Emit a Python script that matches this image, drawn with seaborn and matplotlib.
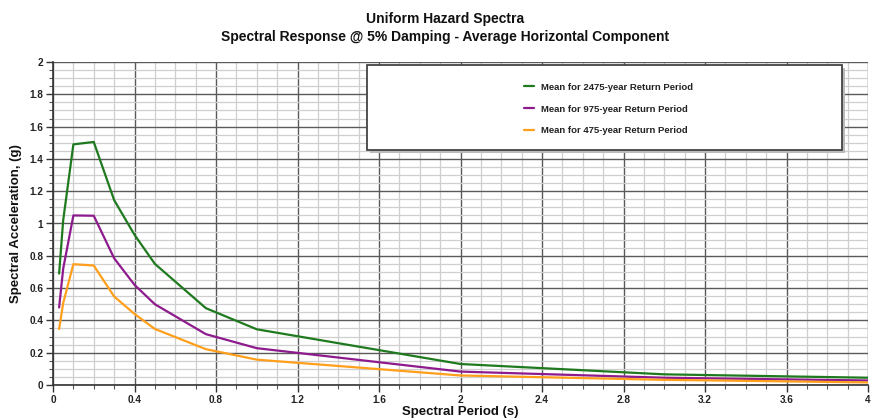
import numpy as np
import pandas as pd
import matplotlib
matplotlib.use("Agg")
import matplotlib.pyplot as plt
from matplotlib.patches import Rectangle
from matplotlib.ticker import MultipleLocator
import seaborn as sns

periods = [0.03, 0.05, 0.1, 0.2, 0.3, 0.4, 0.5, 0.75, 1.0, 2.0, 3.0, 4.0]
sa_2475 = [0.69, 1.02, 1.49, 1.505, 1.145, 0.93, 0.75, 0.476, 0.345, 0.13, 0.066, 0.045]
sa_975 = [0.48, 0.72, 1.05, 1.048, 0.785, 0.62, 0.50, 0.315, 0.228, 0.083, 0.045, 0.028]
sa_475 = [0.347, 0.507, 0.748, 0.74, 0.548, 0.44, 0.347, 0.222, 0.157, 0.059, 0.032, 0.016]
series_names = ["Mean for 2475-year Return Period",
                "Mean for 975-year Return Period",
                "Mean for 475-year Return Period"]
colors = ["#1f7a1f", "#8e1b8e", "#ff9f1c"]

rows = []
for name, vals in zip(series_names, [sa_2475, sa_975, sa_475]):
    for p, v in zip(periods, vals):
        rows.append({"Period": p, "SA": v, "Series": name})
df = pd.DataFrame(rows)

sns.set_theme(style="white")
plt.rcParams["font.family"] = ["Liberation Sans", "DejaVu Sans"]

fig = plt.figure(figsize=(8.9, 4.19), dpi=100)
ax = fig.add_axes([53 / 890, 1 - 385 / 419, 815 / 890, 323 / 419])

sns.lineplot(data=df, x="Period", y="SA", hue="Series", palette=colors,
             hue_order=series_names, linewidth=1.6, ax=ax, legend=True, zorder=3)

ax.set_xlim(0, 4)
ax.set_ylim(0, 2)
ax.xaxis.set_major_locator(MultipleLocator(0.4))
ax.xaxis.set_minor_locator(MultipleLocator(0.1))
ax.yaxis.set_major_locator(MultipleLocator(0.2))
ax.yaxis.set_minor_locator(MultipleLocator(0.05))
ax.grid(which="major", color="#5a5a5a", linewidth=1.0, zorder=1)
ax.grid(which="minor", color="#cfcfcf", linewidth=0.9, zorder=0)
ax.set_axisbelow(True)

xt = np.arange(0, 4.01, 0.4)
ax.set_xticks(xt)
ax.set_xticklabels([("%g" % round(v, 1)) for v in xt])
yt = np.arange(0, 2.01, 0.2)
ax.set_yticks(yt)
ax.set_yticklabels([("%g" % round(v, 1)) for v in yt])

ax.tick_params(axis="both", which="major", labelsize=7.2, length=5, width=1,
               color="#333333", direction="out", bottom=True, left=True, pad=2)
ax.tick_params(axis="both", which="minor", length=3, width=0.8, color="#555555",
               direction="out", bottom=True, left=True)
for lab in ax.get_xticklabels() + ax.get_yticklabels():
    lab.set_fontweight("bold")
    lab.set_color("#222222")

for s in ["left", "bottom"]:
    ax.spines[s].set_color("#333333")
    ax.spines[s].set_linewidth(1.2)
for s in ["top", "right"]:
    ax.spines[s].set_visible(False)

ax.set_xlabel("Spectral Period (s)", fontsize=9.5, fontweight="bold", labelpad=1, color="#111111")
ax.set_ylabel("Spectral Acceleration, (g)", fontsize=9.5, fontweight="bold", labelpad=5, color="#111111")

fig.text(0.5, 1 - 19 / 419, "Uniform Hazard Spectra", ha="center", va="center",
         fontsize=10, fontweight="bold", color="#111111")
fig.text(0.5, 1 - 37 / 419, "Spectral Response @ 5% Damping - Average Horizontal Component",
         ha="center", va="center", fontsize=10, fontweight="bold", color="#111111")

# legend box
bx0, bx1 = (367 - 53) / 815, (842 - 53) / 815
by0, by1 = (385 - 150) / 323, (385 - 65) / 323
shadow = Rectangle((bx0 + 0.004, by0 - 0.008), bx1 - bx0, by1 - by0, transform=ax.transAxes,
                   facecolor="#bbbbbb", edgecolor="none", zorder=4, clip_on=False)
box = Rectangle((bx0, by0), bx1 - bx0, by1 - by0, transform=ax.transAxes,
                facecolor="white", edgecolor="#444444", linewidth=1.3, zorder=5, clip_on=False)
ax.add_patch(shadow)
ax.add_patch(box)

leg = ax.legend(loc="upper left", bbox_to_anchor=((520 - 53) / 815, (385 - 79) / 323),
                frameon=False, fontsize=6.8, handlelength=1.1, handletextpad=0.7,
                labelspacing=1.35, borderaxespad=0)
leg.set_zorder(6)
for t in leg.get_texts():
    t.set_fontweight("bold")
    t.set_color("#222222")

fig.savefig("out.png", dpi=100)
